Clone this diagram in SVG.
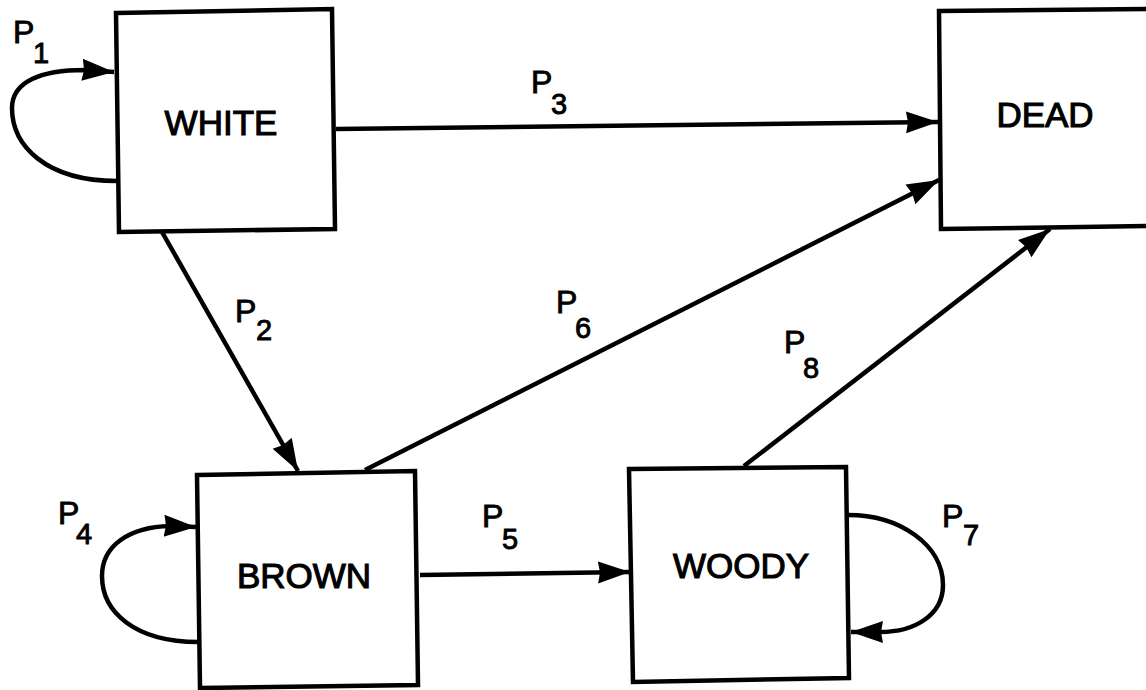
<svg xmlns="http://www.w3.org/2000/svg" width="1146" height="690" viewBox="0 0 1146 690">
<style>
.box{fill:#fff;stroke:#000;stroke-width:4.5;stroke-linejoin:miter}
.name{font-family:"Liberation Sans",Arial,sans-serif;font-size:35px;fill:#000;stroke:#000;stroke-width:1.1;text-anchor:middle}
.p{font-family:"Liberation Sans",Arial,sans-serif;font-size:32px;fill:#000;stroke:#000;stroke-width:0.9}
.sub{font-size:29px}
.edge{fill:none;stroke:#000;stroke-width:4.5}
</style>
<defs>
<marker id="ah" markerUnits="userSpaceOnUse" markerWidth="36" markerHeight="28" refX="32" refY="14" orient="auto">
<path d="M0,3 L32,14 L0,25 L2,14 Z" fill="#000"/>
</marker>
</defs>
<rect width="1146" height="690" fill="#fff"/>
<g id="connectors">
<path class="edge" d="M117,181 C45,181 12,145 12,108 C12,82 40,70 85,70 L114,72" marker-end="url(#ah)"/>
<path class="edge" d="M162,232 L298,471" marker-end="url(#ah)"/>
<path class="edge" d="M336,129 L938,122" marker-end="url(#ah)"/>
<path class="edge" d="M198,642 C135,642 102,612 102,576 C102,545 130,527 170,526 L196,527" marker-end="url(#ah)"/>
<path class="edge" d="M420,575 L630,572" marker-end="url(#ah)"/>
<path class="edge" d="M365,470 L939,180" marker-end="url(#ah)"/>
<path class="edge" d="M848,515 C900,515 943,545 943,585 C943,615 915,632 880,632 L851,632" marker-end="url(#ah)"/>
<path class="edge" d="M744,466 L1050,229" marker-end="url(#ah)"/>
</g>
<g id="white"><polygon class="box" points="116,13 332,9 335,229 119,232"/><text class="name" x="221" y="135">WHITE</text></g>
<g id="dead"><polygon class="box" points="939,11 1152,9 1152,226 941,229"/><text class="name" x="1045" y="127">DEAD</text></g>
<g id="brown"><polygon class="box" points="197,475 415,471 418,685 200,688"/><text class="name" x="304" y="588">BROWN</text></g>
<g id="woody"><polygon class="box" points="629,469 846,467 849,678 633,682"/><text class="name" x="741" y="578">WOODY</text></g>
<g id="labels">
<text class="p" x="13" y="43">P<tspan class="sub" x="33" y="63">1</tspan></text>
<text class="p" x="235" y="322">P<tspan class="sub" x="256" y="340">2</tspan></text>
<text class="p" x="531" y="93">P<tspan class="sub" x="551" y="114">3</tspan></text>
<text class="p" x="58" y="524">P<tspan class="sub" x="76" y="544">4</tspan></text>
<text class="p" x="482" y="527">P<tspan class="sub" x="502" y="549">5</tspan></text>
<text class="p" x="556" y="313">P<tspan class="sub" x="575" y="338">6</tspan></text>
<text class="p" x="942" y="527">P<tspan class="sub" x="963" y="545">7</tspan></text>
<text class="p" x="784" y="353">P<tspan class="sub" x="803" y="378">8</tspan></text>
</g>
</svg>
